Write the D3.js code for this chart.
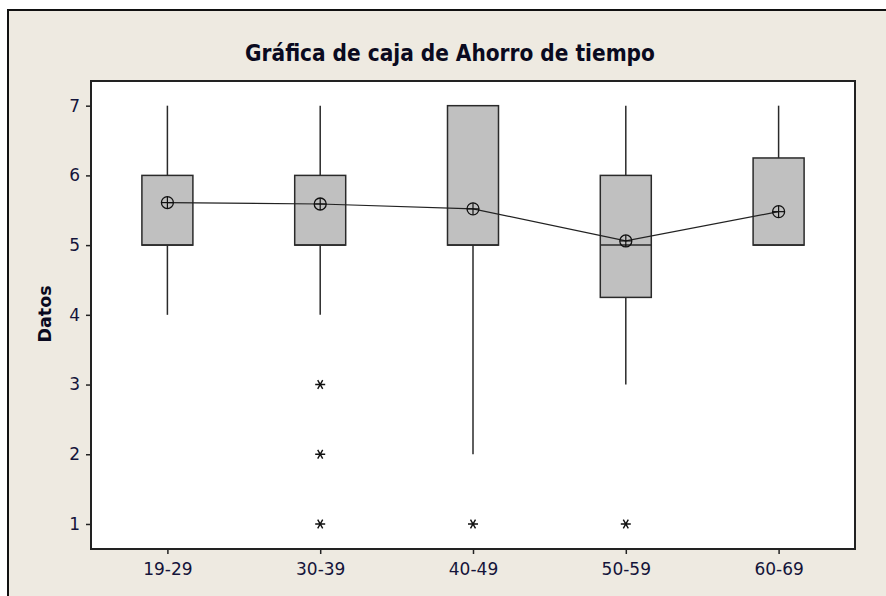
<!DOCTYPE html>
<html>
<head>
<meta charset="utf-8">
<script src="https://cdn.jsdelivr.net/npm/d3@7"></script>
<style>
  html, body { margin: 0; padding: 0; background: #ffffff; }
  svg { display: block; }
</style>
</head>
<body>
<svg id="chart" width="886" height="596"></svg>
<script>
// ---- data ----
const categories = ["19-29", "30-39", "40-49", "50-59", "60-69"];
const q1Values = [5, 5, 5, 4.25, 5];
const medianValues = [5, 5, 5, 5, 5];
const q3Values = [6, 6, 7, 6, 6.25];
const whiskerLow = [4, 4, 2, 3, 5];
const whiskerHigh = [7, 7, 7, 7, 7];
const meanValues = [5.61, 5.59, 5.52, 5.06, 5.48];
const outlierValues = [[], [3, 2, 1], [1], [1], []];
const yTicks = [1, 2, 3, 4, 5, 6, 7];
const titleText = "Gráfica de caja de Ahorro de tiempo";
const yLabelText = "Datos";

// ---- layout ----
const W = 886, H = 596;
const plot = { left: 91, right: 855, top: 81, bottom: 549 };
const svg = d3.select("#chart");
const font = "'DejaVu Sans', Verdana, sans-serif";
const condFont = "'DejaVu Sans Condensed', 'DejaVu Sans', Verdana, sans-serif";
const textColor = "#14143a";

// outer background and frame
svg.append("rect").attr("x", 0).attr("y", 0).attr("width", W).attr("height", H).attr("fill", "#ffffff");
svg.append("rect").attr("x", 8).attr("y", 10).attr("width", W + 20).attr("height", H + 20)
  .attr("fill", "#EEEAE1").attr("stroke", "#111").attr("stroke-width", 2);

const x = d3.scalePoint().domain(categories).range([plot.left, plot.right]).padding(0.5);
const y = d3.scaleLinear().domain([0.641, 7.354]).range([plot.bottom, plot.top]);

// plot area
svg.append("rect").attr("x", plot.left).attr("y", plot.top)
  .attr("width", plot.right - plot.left).attr("height", plot.bottom - plot.top)
  .attr("fill", "#ffffff").attr("stroke", "#222").attr("stroke-width", 2);

// axes
const yAxis = svg.append("g").attr("transform", `translate(${plot.left},0)`)
  .call(d3.axisLeft(y).tickValues(yTicks).tickSize(5).tickPadding(6).tickFormat(d3.format("d")));
const xAxis = svg.append("g").attr("transform", `translate(0,${plot.bottom})`)
  .call(d3.axisBottom(x).tickSize(5).tickPadding(9));
[yAxis, xAxis].forEach(g => {
  g.select(".domain").remove();
  g.selectAll(".tick line").attr("stroke", "#222").attr("stroke-width", 1.5);
  g.selectAll(".tick text").attr("font-family", font).attr("font-size", 17).attr("fill", textColor);
});

// title
const title = svg.append("text").attr("x", 450).attr("y", 61).attr("text-anchor", "middle")
  .attr("font-family", condFont).attr("font-weight", "bold").attr("font-size", 20)
  .attr("fill", "#0a0a20").text(titleText);
{
  const w = title.node().getComputedTextLength();
  title.attr("font-size", 20 * 410 / w);
}

// y label
svg.append("text").attr("transform", "translate(51,314) rotate(-90)").attr("text-anchor", "middle")
  .attr("font-family", font).attr("font-weight", "bold").attr("font-size", 17.5)
  .attr("fill", "#0a0a20").text(yLabelText);

const boxHalf = 25.5;
const stroke = "#2a2a2a";
const g = svg.append("g");

categories.forEach((c, i) => {
  const cx = x(c);
  // whiskers
  if (whiskerHigh[i] > q3Values[i])
    g.append("line").attr("x1", cx).attr("x2", cx).attr("y1", y(q3Values[i])).attr("y2", y(whiskerHigh[i]))
      .attr("stroke", stroke).attr("stroke-width", 1.5);
  if (whiskerLow[i] < q1Values[i])
    g.append("line").attr("x1", cx).attr("x2", cx).attr("y1", y(q1Values[i])).attr("y2", y(whiskerLow[i]))
      .attr("stroke", stroke).attr("stroke-width", 1.5);
  // box
  g.append("rect").attr("x", cx - boxHalf).attr("y", y(q3Values[i]))
    .attr("width", boxHalf * 2).attr("height", y(q1Values[i]) - y(q3Values[i]))
    .attr("fill", "#C0C0C0").attr("stroke", stroke).attr("stroke-width", 1.5);
  // median
  g.append("line").attr("x1", cx - boxHalf).attr("x2", cx + boxHalf)
    .attr("y1", y(medianValues[i])).attr("y2", y(medianValues[i]))
    .attr("stroke", stroke).attr("stroke-width", 1.5);
  // outliers (asterisk)
  outlierValues[i].forEach(v => {
    const oy = y(v);
    const r = 5;
    const path = d3.path();
    path.moveTo(cx - r, oy); path.lineTo(cx + r, oy);
    const dx = r * 0.5, dy = r * 0.87;
    path.moveTo(cx - dx, oy - dy); path.lineTo(cx + dx, oy + dy);
    path.moveTo(cx + dx, oy - dy); path.lineTo(cx - dx, oy + dy);
    g.append("path").attr("d", path.toString()).attr("stroke", "#111").attr("stroke-width", 1.4).attr("fill", "none");
  });
});

// mean connect line
const meanLine = d3.line().x((d, i) => x(categories[i])).y(d => y(d));
g.append("path").attr("d", meanLine(meanValues)).attr("fill", "none").attr("stroke", "#222").attr("stroke-width", 1.2);

// mean symbols
meanValues.forEach((m, i) => {
  const cx = x(categories[i]), cy = y(m), r = 6;
  g.append("circle").attr("cx", cx).attr("cy", cy).attr("r", r).attr("fill", "none")
    .attr("stroke", "#111").attr("stroke-width", 1.3);
  g.append("line").attr("x1", cx - r).attr("x2", cx + r).attr("y1", cy).attr("y2", cy)
    .attr("stroke", "#111").attr("stroke-width", 1.2);
  g.append("line").attr("x1", cx).attr("x2", cx).attr("y1", cy - r).attr("y2", cy + r)
    .attr("stroke", "#111").attr("stroke-width", 1.2);
});
</script>
</body>
</html>
